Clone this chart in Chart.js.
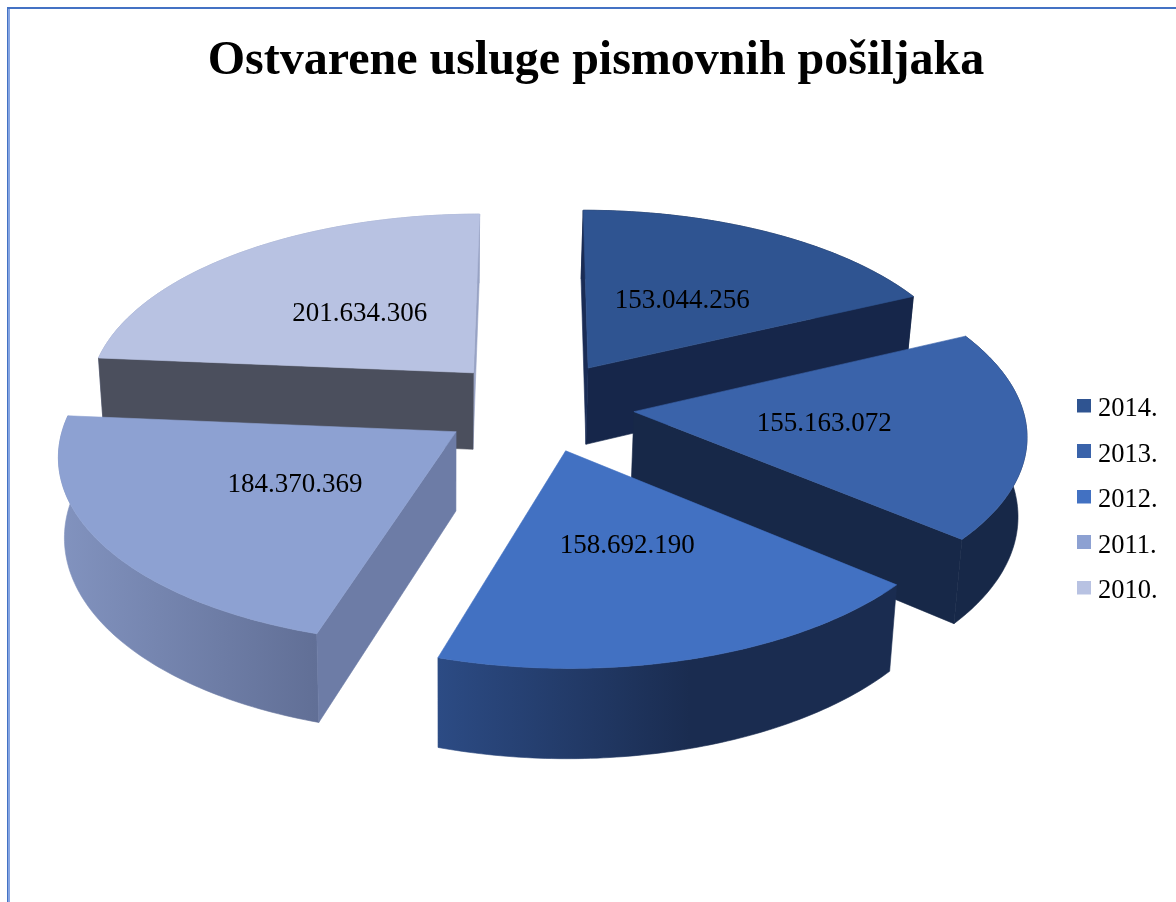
<!DOCTYPE html>
<html>
<head>
<meta charset="utf-8">
<style>
html,body{margin:0;padding:0;background:#fff;overflow:hidden}
#frame{position:absolute;left:7px;top:7px;width:1169px;height:895px;box-sizing:border-box;border-top:2px solid #4472C4;border-left:1px solid #4472C4;box-shadow:inset 2px 0 0 #86A5E2}
canvas{position:absolute;left:0;top:0}
</style>
<script src="https://cdn.jsdelivr.net/npm/chart.js@4"></script>
</head>
<body>
<div id="frame"></div>
<canvas id="c" width="1176" height="902"></canvas>
<script>
const titleText = 'Ostvarene usluge pismovnih pošiljaka';
const years = ['2014.', '2013.', '2012.', '2011.', '2010.'];
const values = [153044256, 155163072, 158692190, 184370369, 201634306];
const topColors = ['#2F5491', '#3A63AA', '#4271C2', '#8DA1D2', '#B8C2E2'];
const rimLeft = ['#162745', '#172848', '#2C4B84', '#8293BF', '#98A3C4'];
const rimRight = ['#162745', '#172848', '#1A2C50', '#616F96', '#98A3C4'];
const wallStart = ['#1A2C55', '#172848', '#1A2C50', '#6D7CA6', '#4B4F5D'];
const wallEnd = ['#16264A', '#172848', '#2C4B84', '#8293BF', '#98A3C4'];

const serif = '"Liberation Serif", "Times New Roman", serif';
const view = {dx: -7, dy: -95, rx: 388, ry: 183, k: 0.11, depth: 78, vx: 446, shrink: 0.9845, labelAt: 0.48, labelDx: 3, labelDy: 1};
const legendShift = {x: -2.5, y: 49.5};

function swatch(color) {
  const s = document.createElement('canvas');
  s.width = 14; s.height = 22;
  const g = s.getContext('2d');
  g.fillStyle = color;
  g.fillRect(0, 0, 14, 14);
  return s;
}

function dotted(v) { return String(v).replace(/\B(?=(\d{3})+$)/g, '.'); }

const pie3d = {
  id: 'pie3d',
  afterLayout(chart) {
    const l = chart.legend;
    l.left += legendShift.x; l.right += legendShift.x;
    l.top += legendShift.y; l.bottom += legendShift.y;
  },
  beforeDatasetDraw(chart, args) {
    const ctx = chart.ctx;
    const arcs = chart.getDatasetMeta(args.index).data;
    const list = arcs.map((arc, i) => ({arc, i, mid: (arc.startAngle + arc.endAngle) / 2}))
      .sort((a, b) => Math.sin(a.mid) - Math.sin(b.mid));

    list.forEach(({arc, i, mid}) => {
      const cx = arc.x + view.dx, cy = arc.y + view.dy;
      const e = arc.options.offset / arc.outerRadius;
      const ax = e * Math.cos(mid), ay = e * Math.sin(mid);
      const top = (X, Y) => {
        const s = 1 / (1 - view.k * Y);
        return [cx + view.rx * X * s, cy + view.ry * Y * s];
      };
      const bot = (X, Y) => {
        const s = 1 / (1 - view.k * Y);
        const p = top(X, Y);
        return [view.vx + (p[0] - view.vx) * view.shrink, p[1] + view.depth * s];
      };
      const n = 80, rim = [];
      for (let j = 0; j <= n; j++) {
        const a = arc.startAngle + (arc.endAngle - arc.startAngle) * j / n;
        rim.push([ax + Math.cos(a), ay + Math.sin(a)]);
      }
      const fill = (pts, style) => {
        ctx.beginPath();
        pts.forEach((p, q) => q ? ctx.lineTo(p[0], p[1]) : ctx.moveTo(p[0], p[1]));
        ctx.closePath();
        ctx.fillStyle = style; ctx.strokeStyle = style; ctx.lineWidth = 0.6;
        ctx.fill(); ctx.stroke();
      };
      const a0 = rim[0], a1 = rim[n];
      // outer rim
      const topRim = rim.map(p => top(p[0], p[1]));
      const botRim = rim.map(p => bot(p[0], p[1])).reverse();
      const xs = topRim.map(p => p[0]);
      const grad = ctx.createLinearGradient(Math.min(...xs), 0, Math.max(...xs), 0);
      grad.addColorStop(0, rimLeft[i]);
      grad.addColorStop(i === 2 ? 0.55 : 1, rimRight[i]);
      grad.addColorStop(1, rimRight[i]);
      fill(topRim.concat(botRim), grad);
      // cut faces that look towards the viewer
      if (Math.cos(arc.endAngle) > -0.01) {
        fill([top(ax, ay), top(a1[0], a1[1]), bot(a1[0], a1[1]), bot(ax, ay)], wallEnd[i]);
      }
      if (Math.cos(arc.startAngle) < 0.01) {
        fill([top(ax, ay), top(a0[0], a0[1]), bot(a0[0], a0[1]), bot(ax, ay)], wallStart[i]);
      }
      // top face
      fill([top(ax, ay)].concat(topRim), topColors[i]);
    });

    ctx.save();
    ctx.font = '27px ' + serif;
    ctx.fillStyle = '#000';
    ctx.textAlign = 'center';
    ctx.textBaseline = 'middle';
    list.forEach(({arc, i, mid}) => {
      const cx = arc.x + view.dx + view.labelDx, cy = arc.y + view.dy + view.labelDy;
      const e = arc.options.offset / arc.outerRadius + view.labelAt;
      const X = e * Math.cos(mid), Y = e * Math.sin(mid);
      const s = 1 / (1 - view.k * Y);
      ctx.fillText(dotted(values[i]), cx + view.rx * X * s, cy + view.ry * Y * s);
    });
    ctx.restore();
    return false;
  }
};

new Chart(document.getElementById('c'), {
  type: 'pie',
  data: {
    labels: years,
    datasets: [{
      data: values,
      backgroundColor: topColors,
      borderWidth: 0,
      offset: 89
    }]
  },
  options: {
    responsive: false,
    animation: false,
    layout: {padding: {left: 22, right: 6}},
    plugins: {
      tooltip: {enabled: false},
      title: {
        display: true,
        text: titleText,
        color: '#000',
        font: {family: serif, size: 48, weight: 'bold'},
        padding: {top: 33, bottom: 9}
      },
      legend: {
        position: 'right',
        labels: {
          color: '#000',
          font: {family: serif, size: 26.5},
          usePointStyle: true,
          boxWidth: 1,
          boxHeight: 14,
          padding: 19,
          generateLabels(chart) {
            const base = Chart.overrides.pie.plugins.legend.labels.generateLabels(chart);
            return base.map((it, i) => Object.assign(it, {pointStyle: swatch(topColors[i])}));
          }
        }
      }
    }
  },
  plugins: [pie3d]
});
</script>
</body>
</html>
